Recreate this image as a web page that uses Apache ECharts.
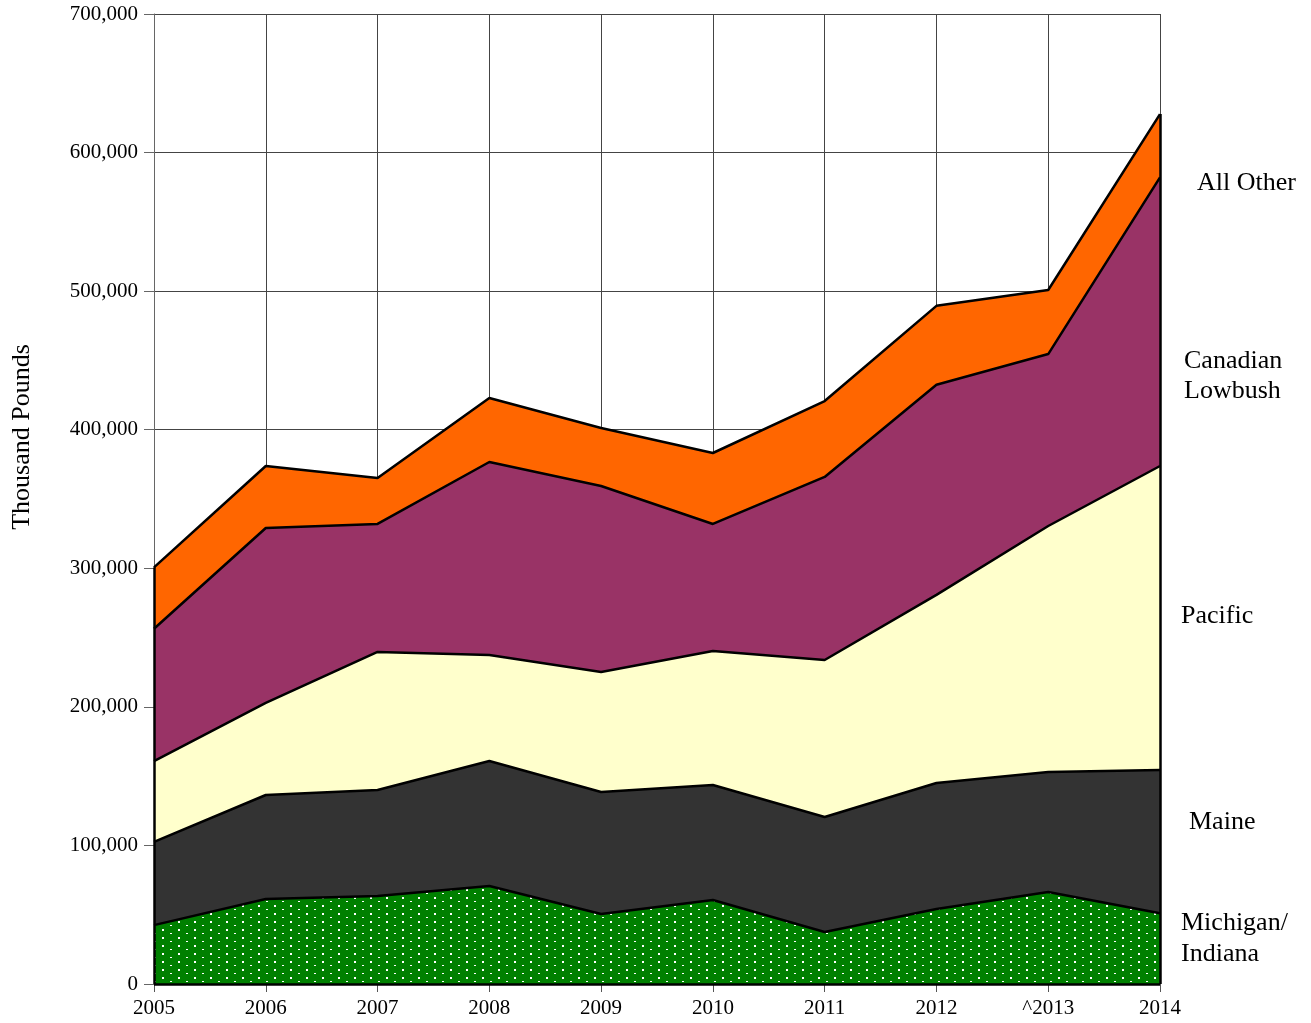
<!DOCTYPE html>
<html>
<head>
<meta charset="utf-8">
<script src="https://cdn.jsdelivr.net/npm/echarts@6/dist/echarts.min.js"></script>
<style>
html,body{margin:0;padding:0;background:#fff;}
#chart{width:1311px;height:1023px;}
</style>
</head>
<body>
<div id="chart"></div>
<script>
// ---- data (thousand pounds) ----
var years = ['2005','2006','2007','2008','2009','2010','2011','2012','^2013','2014'];
var michiganIndiana = [42500, 61300, 63500, 70700, 50500, 60600, 37500, 54100, 66400, 51000];
var maine           = [60000, 75100, 76500, 90200, 88100, 83000, 83000, 91000, 86600, 103400];
var pacific         = [58400, 66400, 99600, 76500, 86600, 96700, 113300, 135700, 177500, 219400];
var canadianLowbush = [95500, 126300, 92400, 139300, 134200, 91700, 132100, 151600, 124100, 208300];
var allOther        = [44300, 44700, 33200, 46200, 41800, 51200, 54800, 57000, 46200, 45700];
var yTicks = [0, 100000, 200000, 300000, 400000, 500000, 600000, 700000];
var seriesNames = ['Michigan/\nIndiana', 'Maine', 'Pacific', 'Canadian\nLowbush', 'All Other'];
var yAxisTitle = 'Thousand Pounds';

var FONT = '"Liberation Serif", "Times New Roman", serif';

// dotted green pattern
function makePattern() {
  var c = document.createElement('canvas');
  c.width = 16; c.height = 8;
  var g = c.getContext('2d');
  g.fillStyle = '#008000';
  g.fillRect(0, 0, 16, 8);
  g.fillStyle = '#ffffff';
  g.fillRect(2, 1, 2, 2);
  g.fillRect(10, 5, 2, 1);
  return c;
}

var totals = years.map(function (_, i) {
  return michiganIndiana[i] + maine[i] + pacific[i] + canadianLowbush[i] + allOther[i];
});
var last = years.length - 1;

var colors = [{ image: makePattern(), repeat: 'repeat' }, '#333333', '#ffffcc', '#993366', '#ff6600'];
var dataSets = [michiganIndiana, maine, pacific, canadianLowbush, allOther];

var series = dataSets.map(function (d, idx) {
  var s = {
    name: seriesNames[idx],
    type: 'line',
    stack: 'total',
    data: d,
    symbol: 'none',
    smooth: false,
    lineStyle: { color: '#000', width: 2.5 },
    areaStyle: { color: colors[idx], opacity: 1 },
    z: 3,
    animation: false
  };
  if (idx === dataSets.length - 1) {
    s.markLine = {
      silent: true,
      symbol: 'none',
      label: { show: false },
      lineStyle: { color: '#000', width: 2.5, type: 'solid' },
      data: [
        [{ coord: [years[0], 0] }, { coord: [years[0], totals[0]] }],
        [{ coord: [years[last], 0] }, { coord: [years[last], totals[last]] }],
        [{ coord: [years[0], 0] }, { coord: [years[last], 0] }]
      ]
    };
  }
  return s;
});

var chart = echarts.init(document.getElementById('chart'), null, { renderer: 'canvas' });
chart.setOption({
  backgroundColor: '#fff',
  animation: false,
  grid: { left: 154, right: 151, top: 14, bottom: 39, containLabel: false },
  xAxis: {
    type: 'category',
    data: years,
    boundaryGap: false,
    axisLine: { show: true, lineStyle: { color: '#000', width: 1 } },
    axisTick: { show: true, length: 8, lineStyle: { color: '#555' } },
    splitLine: { show: true, lineStyle: { color: '#444', width: 1 } },
    axisLabel: { color: '#000', fontFamily: FONT, fontSize: 21, margin: 14 }
  },
  yAxis: {
    type: 'value',
    min: yTicks[0],
    max: yTicks[yTicks.length - 1],
    interval: 100000,
    axisLine: { show: true, lineStyle: { color: '#666', width: 1 } },
    axisTick: { show: true, length: 10, lineStyle: { color: '#666' } },
    splitLine: { show: true, lineStyle: { color: '#444', width: 1 } },
    axisLabel: {
      color: '#000', fontFamily: FONT, fontSize: 21, margin: 16,
      formatter: function (v) { return v === 0 ? '0' : v.toLocaleString('en-US'); }
    }
  },
  series: series,
  graphic: [
    { type: 'text', x: 22, y: 437, rotation: Math.PI / 2,
      style: { text: yAxisTitle, font: '26px ' + FONT, fill: '#000', align: 'center', verticalAlign: 'middle' } },
    { type: 'text', left: 1197, top: 170, style: { text: 'All Other', font: '26px ' + FONT, fill: '#000' } },
    { type: 'text', left: 1184, top: 346, style: { text: 'Canadian\nLowbush', font: '26px ' + FONT, fill: '#000', align: 'center', lineHeight: 30 } },
    { type: 'text', left: 1181, top: 603, style: { text: 'Pacific', font: '26px ' + FONT, fill: '#000' } },
    { type: 'text', left: 1189, top: 809, style: { text: 'Maine', font: '26px ' + FONT, fill: '#000' } },
    { type: 'text', left: 1181, top: 908, style: { text: 'Michigan/\nIndiana', font: '26px ' + FONT, fill: '#000', lineHeight: 31 } }
  ]
});
</script>
</body>
</html>
